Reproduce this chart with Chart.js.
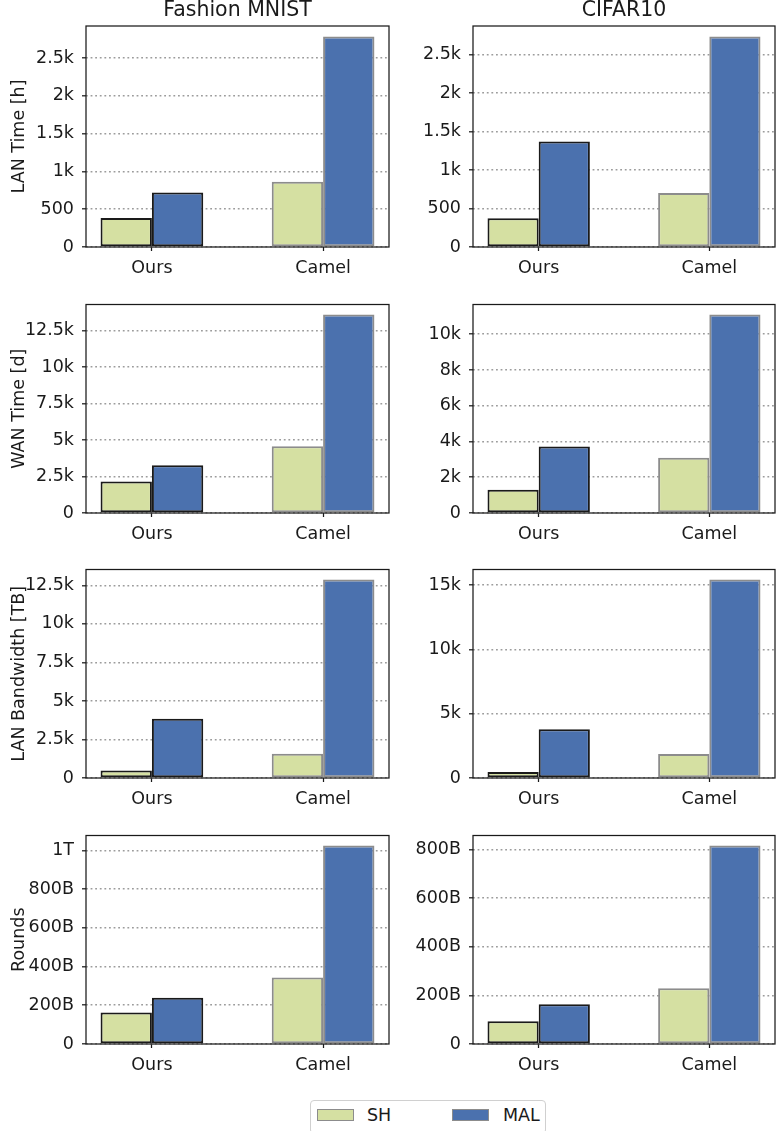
<!DOCTYPE html>
<html>
<head>
<meta charset="utf-8">
<script src="https://cdn.jsdelivr.net/npm/chart.js@4.4.1/dist/chart.umd.min.js"></script>
<style>
  body { margin: 0; background: #fff; width: 776px; height: 1131px; position: relative; overflow: hidden; font-family: 'DejaVu Sans', sans-serif; }
  .panel { position: absolute; }
  .legend { position: absolute; left: 310px; top: 1100px; width: 236px; height: 34px; border: 1px solid #d0d0d0; border-radius: 4px; box-sizing: border-box; }
  .patch { position: absolute; top: 7.5px; width: 37px; height: 12.5px; border: 1.3px solid #8c8c8c; box-sizing: border-box; }
  .ltext { position: absolute; top: 1px; font-size: 17.5px; line-height: 26px; color: #1a1a1a; }
</style>
</head>
<body>
<div class="legend">
  <div class="patch" id="p0" style="left:6px"></div><div class="ltext" id="t0" style="left:56px"></div>
  <div class="patch" id="p1" style="left:141px"></div><div class="ltext" id="t1" style="left:192px"></div>
</div>
<script>
const categories = ['Ours', 'Camel'];
const seriesNames = ['SH', 'MAL'];
const colTitles = ['Fashion MNIST', 'CIFAR10'];
const rowLabels = ['LAN Time [h]', 'WAN Time [d]', 'LAN Bandwidth [TB]', 'Rounds'];

// Fashion MNIST
const fmLanTimeSH = [383, 862];
const fmLanTimeMAL = [720, 2785];
const fmWanTimeSH = [2150, 4566];
const fmWanTimeMAL = [3275, 13600];
const fmLanBwSH = [489, 1568];
const fmLanBwMAL = [3848, 12888];
const fmRoundsSH = [163e9, 343e9];
const fmRoundsMAL = [239e9, 1026e9];

// CIFAR10
const cfLanTimeSH = [372, 700];
const cfLanTimeMAL = [1371, 2733];
const cfWanTimeSH = [1300, 3093];
const cfWanTimeMAL = [3725, 11107];
const cfLanBwSH = [464, 1857];
const cfLanBwMAL = [3788, 15443];
const cfRoundsSH = [94e9, 229e9];
const cfRoundsMAL = [164e9, 817e9];

// y tick values
const fmLanTimeTicks = [0, 500, 1000, 1500, 2000, 2500];
const cfLanTimeTicks = [0, 500, 1000, 1500, 2000, 2500];
const fmWanTimeTicks = [0, 2500, 5000, 7500, 10000, 12500];
const cfWanTimeTicks = [0, 2000, 4000, 6000, 8000, 10000];
const fmLanBwTicks = [0, 2500, 5000, 7500, 10000, 12500];
const cfLanBwTicks = [0, 5000, 10000, 15000];
const fmRoundsTicks = [0, 200e9, 400e9, 600e9, 800e9, 1e12];
const cfRoundsTicks = [0, 200e9, 400e9, 600e9, 800e9];

const shColor = '#d5e0a2';
const malColor = '#4b71ae';
const edgeColors = ['#1a1a1a', '#8c8c8c']; // Ours, Camel

const panels = [
  [fmLanTimeSH, fmLanTimeMAL, fmLanTimeTicks, cfLanTimeSH, cfLanTimeMAL, cfLanTimeTicks],
  [fmWanTimeSH, fmWanTimeMAL, fmWanTimeTicks, cfWanTimeSH, cfWanTimeMAL, cfWanTimeTicks],
  [fmLanBwSH, fmLanBwMAL, fmLanBwTicks, cfLanBwSH, cfLanBwMAL, cfLanBwTicks],
  [fmRoundsSH, fmRoundsMAL, fmRoundsTicks, cfRoundsSH, cfRoundsMAL, cfRoundsTicks]
];

function fmt(v) {
  if (v === 0) return '0';
  const units = [[1e12, 'T'], [1e9, 'B'], [1e3, 'k']];
  for (const [d, s] of units) {
    if (Math.abs(v) >= d) return +(v / d).toFixed(2) + s;
  }
  return String(v);
}

// black box round the plot area
const frame = {
  id: 'frame',
  afterDraw(chart) {
    const a = chart.chartArea, ctx = chart.ctx;
    ctx.save();
    ctx.strokeStyle = '#1a1a1a';
    ctx.lineWidth = 1.25;
    ctx.strokeRect(a.left, a.top, a.right - a.left, a.bottom - a.top);
    ctx.restore();
  }
};

const FONT = 'DejaVu Sans';
const colLeft = [0, 390], colWidth = [392, 386], yAxisW = [86, 83], padRight = [3, 1];
const rowTop = [26, 292, 557, 823], plotH = 221, xAxisH = 40;
const xMin = -0.385, xMax = 1.385;

document.getElementById('p0').style.background = shColor;
document.getElementById('p1').style.background = malColor;
document.getElementById('t0').textContent = seriesNames[0];
document.getElementById('t1').textContent = seriesNames[1];

panels.forEach((row, r) => {
  for (let c = 0; c < 2; c++) {
    const sh = row[c * 3], mal = row[c * 3 + 1], ticks = row[c * 3 + 2];
    const top = r === 0 ? 0 : rowTop[r] - 6;
    const h = rowTop[r] + plotH + xAxisH - top;
    const div = document.createElement('div');
    div.className = 'panel';
    div.style.left = colLeft[c] + 'px';
    div.style.top = top + 'px';
    div.style.width = colWidth[c] + 'px';
    div.style.height = h + 'px';
    const cv = document.createElement('canvas');
    div.appendChild(cv);
    document.body.appendChild(div);

    const ymax = Math.max(...sh, ...mal) * 1.05;

    new Chart(cv, {
      type: 'bar',
      data: {
        datasets: [
          {
            label: seriesNames[0],
            data: sh.map((y, i) => ({ x: i, y })),
            backgroundColor: shColor,
            borderColor: edgeColors,
            borderWidth: 2,
            borderSkipped: false
          },
          {
            label: seriesNames[1],
            data: mal.map((y, i) => ({ x: i, y })),
            backgroundColor: malColor,
            borderColor: edgeColors,
            borderWidth: 2,
            borderSkipped: false
          }
        ]
      },
      options: {
        responsive: true,
        maintainAspectRatio: false,
        animation: false,
        categoryPercentage: 0.6,
        barPercentage: 1.0,
        layout: { padding: { top: r === 0 ? 0 : 6, right: padRight[c], left: 0, bottom: 0 } },
        plugins: {
          legend: { display: false },
          tooltip: { enabled: false },
          title: {
            display: r === 0,
            text: colTitles[c],
            fullSize: false,
            color: '#1a1a1a',
            font: { family: FONT, size: 20.5, weight: 'normal', lineHeight: 1 },
            padding: { top: 0, bottom: 5.5 }
          }
        },
        scales: {
          x: {
            type: 'linear',
            offset: false,
            bounds: 'data',
            afterDataLimits: s => { s.min = xMin; s.max = xMax; },
            afterBuildTicks: s => { s.ticks = categories.map((_, i) => ({ value: i })); },
            afterFit: s => { s.height = xAxisH; },
            ticks: {
              callback: v => categories[v],
              color: '#1a1a1a',
              font: { family: FONT, size: 17.5 },
              padding: 7,
              maxRotation: 0,
              autoSkip: false
            },
            grid: { offset: false, drawOnChartArea: false, drawTicks: true, tickLength: 4, tickColor: '#1a1a1a', tickWidth: 1.25 },
            border: { display: false }
          },
          y: {
            min: 0,
            max: ymax,
            z: 1,
            afterBuildTicks: s => { s.ticks = ticks.map(v => ({ value: v })); },
            afterFit: s => { s.width = yAxisW[c]; },
            ticks: {
              callback: v => fmt(v),
              color: '#1a1a1a',
              font: { family: FONT, size: 17.5 },
              padding: 8
            },
            grid: {
              color: '#9c9c9c',
              lineWidth: 1.6,
              drawTicks: true,
              tickLength: 4,
              tickColor: '#1a1a1a',
              tickWidth: 1.25,
              tickBorderDash: []
            },
            border: { display: false, dash: [1.8, 2.8] },
            title: {
              display: c === 0,
              text: rowLabels[r],
              color: '#1a1a1a',
              font: { family: FONT, size: 17.5 },
              padding: { top: 9, bottom: 0 }
            }
          }
        }
      },
      plugins: [frame]
    });
  }
});
</script>
</body>
</html>
